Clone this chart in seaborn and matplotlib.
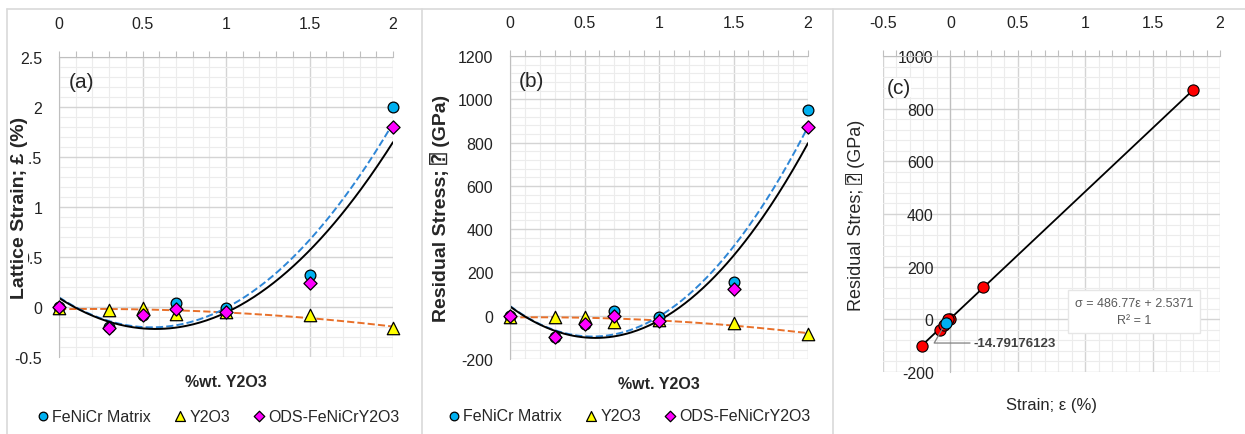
import matplotlib
matplotlib.use("Agg")
import matplotlib.pyplot as plt
from matplotlib.lines import Line2D
from matplotlib.ticker import MultipleLocator, FuncFormatter
import seaborn as sns
import numpy as np

# Y2O3 content (%wt.)
wt_y2o3 = [0.0, 0.3, 0.5, 0.7, 1.0, 1.5, 2.0]

# (a) lattice strain (%)
fe_strain = [0.0, -0.20, -0.08, 0.04, -0.01, 0.32, 2.00]
y2o3_strain = [-0.01, -0.03, -0.01, -0.07, -0.05, -0.08, -0.21]
ods_strain = [0.0, -0.21, -0.08, -0.02, -0.05, 0.24, 1.80]

# (b) residual stress (GPa)
fe_stress = [0, -97, -37, 20, -5, 155, 950]
y2o3_stress = [-5, -8, -5, -28, -20, -34, -86]
ods_stress = [0, -100, -39, 0, -23, 122, 870]

# (c) highlighted point and fit label
hl_strain = [-0.0356]
hl_stress = [-14.79176123]
fit_label = 'σ = 486.77ε + 2.5371\nR² = 1'

sns.set_style("white")
FAM = ['Liberation Sans', 'DejaVu Sans', 'DejaVu Sans Mono']
plt.rcParams['font.family'] = FAM
plt.rcParams['font.size'] = 11.5

W, H = 1245, 435
fig = plt.figure(figsize=(W / 100, H / 100), dpi=100)

C_BLUE = "#00B0F0"
C_YEL = "#FFFF00"
C_MAG = "#FF00FF"
TREND_BLUE = "#2E86D6"
TREND_ORA = "#E8702A"
fmt = FuncFormatter(lambda v, p: f"{v:g}")


def style_axes(ax, xmaj, xmin, ymaj, ymin):
    ax.xaxis.tick_top()
    ax.xaxis.set_label_position('bottom')
    ax.xaxis.set_major_locator(MultipleLocator(xmaj))
    ax.xaxis.set_minor_locator(MultipleLocator(xmin))
    ax.yaxis.set_major_locator(MultipleLocator(ymaj))
    ax.yaxis.set_minor_locator(MultipleLocator(ymin))
    ax.xaxis.set_major_formatter(fmt)
    ax.yaxis.set_major_formatter(fmt)
    ax.grid(which='major', color='#D4D4D4', lw=1.0)
    ax.grid(which='minor', color='#ECECEC', lw=0.8)
    ax.set_axisbelow(True)
    for s in ['right', 'bottom']:
        ax.spines[s].set_visible(False)
    for s in ['top', 'left']:
        ax.spines[s].set_color('#BFBFBF')
    ax.tick_params(which='both', length=4, color='#BFBFBF', width=0.8)
    ax.tick_params(axis='x', which='major', pad=15, labelsize=11.5, colors='#222222')
    ax.tick_params(axis='y', which='major', pad=8, labelsize=11.5, colors='#222222')
    ax.tick_params(axis='x', which='both', color='#BFBFBF')


def comp_panel(ax, fe, y2, ods, tag, ylabel, ylab_x, leg_x, leg_y):
    xs = np.linspace(0, 2, 200)
    for ser, col, ls in [(y2, TREND_ORA, '--'), (fe, TREND_BLUE, '--'), (ods, 'black', '-')]:
        c = np.polyfit(wt_y2o3, ser, 2)
        sns.lineplot(x=xs, y=np.polyval(c, xs), color=col, ls=ls, lw=1.4, ax=ax,
                     zorder=2, legend=False)
    sns.scatterplot(x=wt_y2o3, y=fe, marker='o', s=60, color=C_BLUE, edgecolor='black',
                    linewidth=0.9, label='FeNiCr Matrix', ax=ax, zorder=3, clip_on=False)
    sns.scatterplot(x=wt_y2o3, y=y2, marker='^', s=80, color=C_YEL, edgecolor='black',
                    linewidth=0.9, label='Y2O3', ax=ax, zorder=4, clip_on=False)
    sns.scatterplot(x=wt_y2o3, y=ods, marker='D', s=45, color=C_MAG, edgecolor='black',
                    linewidth=0.9, label='ODS-FeNiCrY2O3', ax=ax, zorder=5, clip_on=False)
    ax.text(0.03, 0.95, tag, transform=ax.transAxes, fontsize=15, va='top', ha='left')
    ax.set_xlabel('%wt. Y2O3', fontweight='bold', fontsize=11.5, labelpad=12)
    ax.set_ylabel(ylabel, fontweight='bold', fontsize=14, family=FAM,
                  bbox=dict(facecolor='white', edgecolor='none', pad=0))
    ax.yaxis.set_label_coords(ylab_x, 0.5)
    ax.legend(loc='center', bbox_to_anchor=(leg_x, leg_y), ncol=3, frameon=False,
              fontsize=11.5, handlelength=0.8, handletextpad=0.2, columnspacing=1.4,
              markerscale=0.8, borderaxespad=0)


# panel (a)
ax1 = fig.add_axes([59 / W, 1 - 358 / H, 334 / W, 300 / H])
style_axes(ax1, 0.5, 0.1, 0.5, 0.1)
comp_panel(ax1, fe_strain, y2o3_strain, ods_strain, '(a)', 'Lattice Strain; £ (%)',
           -0.093, 0.476, -0.197)
ax1.set_xlim(0, 2)
ax1.set_ylim(-0.5, 2.5)

# panel (b)
ax2 = fig.add_axes([510 / W, 1 - 360 / H, 298 / W, 303 / H])
style_axes(ax2, 0.5, 0.1, 200, 40)
comp_panel(ax2, fe_stress, y2o3_stress, ods_stress, '(b)', 'Residual Stress; \u2370 (GPa)',
           -0.2, 0.40, -0.188)
ax2.set_xlim(0, 2)
ax2.set_ylim(-200, 1200)

# panel (c)
ax3 = fig.add_axes([883 / W, 1 - 373 / H, 337 / W, 316 / H])
style_axes(ax3, 0.5, 0.1, 200, 40)
ax3.spines['left'].set_position(('data', 0))
slope, icpt = np.polyfit(ods_strain, ods_stress, 1)
xl = np.array([min(ods_strain), max(ods_strain)])
sns.lineplot(x=xl, y=slope * xl + icpt, color='black', lw=1.3, ax=ax3, zorder=2)
sns.scatterplot(x=ods_strain, y=ods_stress, marker='o', s=65, color='#FF0000',
                edgecolor='black', linewidth=0.8, ax=ax3, zorder=3, legend=False)
sns.scatterplot(x=hl_strain, y=hl_stress, marker='o', s=65, color=C_BLUE,
                edgecolor='black', linewidth=0.8, ax=ax3, zorder=4, legend=False)
ax3.set_xlim(-0.5, 2)
ax3.set_ylim(-200, 1000)
ax3.text(0.01, 0.93, '(c)', transform=ax3.transAxes, fontsize=15, va='top', ha='left',
         bbox=dict(facecolor='white', edgecolor='none', pad=0))
ax3.set_xlabel('Strain; \u03b5 (%)', fontsize=12, labelpad=18)
ax3.set_ylabel('Residual Stres; \u2370 (GPa)', fontsize=13, family=FAM)
ax3.yaxis.set_label_coords(-0.053, 0.5)
ax3.text(1.36, 30, fit_label, fontsize=9, color='#595959', ha='center', va='center',
         linespacing=1.6, bbox=dict(facecolor='white', edgecolor='#E6E6E6', pad=5))
ax3.annotate(f'{hl_stress[0]:.8f}', xy=(hl_strain[0], hl_stress[0]), xytext=(0.17, -90),
             fontsize=9.5, color='#404040', fontweight='bold', ha='left', va='center',
             arrowprops=dict(arrowstyle='-', color='#808080', lw=0.9, shrinkA=0, shrinkB=4,
                             connectionstyle='angle,angleA=0,angleB=60,rad=0'))

# chart-area borders
for x in [7, 422, 833]:
    fig.add_artist(Line2D([x / W, x / W], [0, 1 - 10 / H], color='#D9D9D9', lw=1.2))
fig.add_artist(Line2D([7 / W, 1], [1 - 10 / H, 1 - 10 / H], color='#D9D9D9', lw=1.2))

fig.savefig('out.png', dpi=100)
